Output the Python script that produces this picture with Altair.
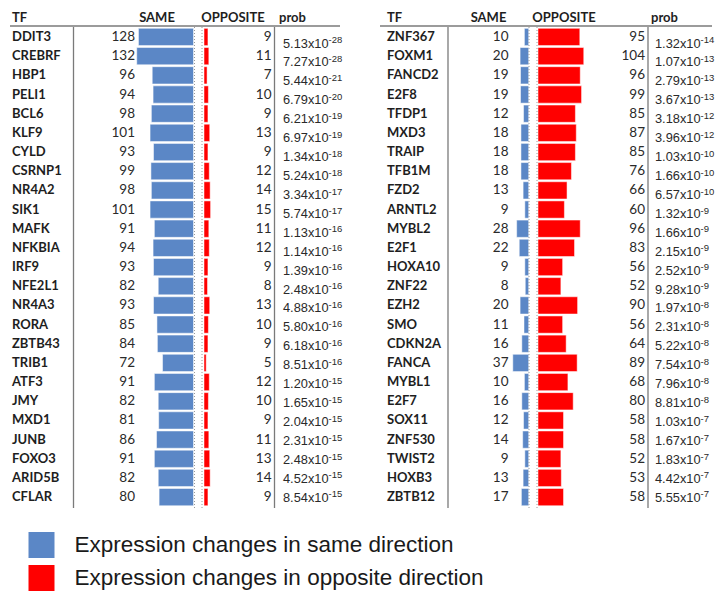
import altair as alt
import pandas as pd

left_tf = ["DDIT3","CREBRF","HBP1","PELI1","BCL6","KLF9","CYLD","CSRNP1","NR4A2","SIK1","MAFK","NFKBIA","IRF9","NFE2L1","NR4A3","RORA","ZBTB43","TRIB1","ATF3","JMY","MXD1","JUNB","FOXO3","ARID5B","CFLAR"]
left_same = [128,132,96,94,98,101,93,99,98,101,91,94,93,82,93,85,84,72,91,82,81,86,91,82,80]
left_opp = [9,11,7,10,9,13,9,12,14,15,11,12,9,8,13,10,9,5,12,10,9,11,13,14,9]
left_mant = ["5.13","7.27","5.44","6.79","6.21","6.97","1.34","5.24","3.34","5.74","1.13","1.14","1.39","2.48","4.88","5.80","6.18","8.51","1.20","1.65","2.04","2.31","2.48","4.52","8.54"]
left_exp = [-28,-28,-21,-20,-19,-19,-18,-18,-17,-17,-16,-16,-16,-16,-16,-16,-16,-16,-15,-15,-15,-15,-15,-15,-15]

right_tf = ["ZNF367","FOXM1","FANCD2","E2F8","TFDP1","MXD3","TRAIP","TFB1M","FZD2","ARNTL2","MYBL2","E2F1","HOXA10","ZNF22","EZH2","SMO","CDKN2A","FANCA","MYBL1","E2F7","SOX11","ZNF530","TWIST2","HOXB3","ZBTB12"]
right_same = [10,20,19,19,12,18,18,18,13,9,28,22,9,8,20,11,16,37,10,16,12,14,9,13,17]
right_opp = [95,104,96,99,85,87,85,76,66,60,96,83,56,52,90,56,64,89,68,80,58,58,52,53,58]
right_mant = ["1.32","1.07","2.79","3.67","3.18","3.96","1.03","1.66","6.57","1.32","1.66","2.15","2.52","9.28","1.97","2.31","5.22","7.54","7.96","8.81","1.03","1.67","1.83","4.42","5.55"]
right_exp = [-14,-13,-13,-13,-12,-12,-10,-10,-10,-9,-9,-9,-9,-9,-8,-8,-8,-8,-8,-8,-7,-7,-7,-7,-7]

headers = ["TF", "SAME", "OPPOSITE", "prob"]
legend_labels = ["Expression changes in same direction", "Expression changes in opposite direction"]
BLUE = "#5b87c6"
RED = "#ff0000"

def make_df(tf, same, opp, mant, exp):
    return pd.DataFrame({
        "row": list(range(len(tf))),
        "tf": tf,
        "same": same,
        "opp": opp,
        "mant": [m + "x10" for m in mant],
        "exp": [str(e) for e in exp],
        "dir_same": legend_labels[0],
        "dir_opp": legend_labels[1],
    })

Y = alt.Y("row:O", axis=None,
          scale=alt.Scale(range=[19.4, 498.7], paddingInner=0.1, paddingOuter=0.05))
# the prob column in the source drifts slightly relative to the rows
YP = alt.Y("row:O", axis=None,
           scale=alt.Scale(range=[25.5, 498.5], paddingInner=0.1, paddingOuter=0.05))
color_scale = alt.Scale(domain=legend_labels, range=[BLUE, RED])
one = pd.DataFrame({"k": [0]})

def panel(df, c, with_legend):
    L = []
    base = alt.Chart(df)
    if with_legend:
        leg = alt.Legend(orient="none", legendX=20.5, legendY=524, title=None,
                         symbolType="square", symbolSize=676, symbolStrokeWidth=0,
                         labelFontSize=22.5, labelFont="Liberation Sans", labelColor="#1a1a1a",
                         labelOffset=20, rowPadding=7, labelLimit=600)
    else:
        leg = None
    L.append(base.mark_bar(stroke="white", strokeWidth=0.5).encode(
        x=alt.X("same:Q", axis=None, scale=alt.Scale(domain=[0, 100], range=[c["same0"], c["same0"] - 43], zero=True)),
        y=Y, color=alt.Color("dir_same:N", scale=color_scale, legend=leg)))
    L.append(base.mark_bar(stroke="white", strokeWidth=0.5).encode(
        x=alt.X("opp:Q", axis=None, scale=alt.Scale(domain=[0, 100], range=[c["opp0"], c["opp0"] + 44], zero=True)),
        y=Y, color=alt.Color("dir_opp:N", scale=color_scale, legend=None)))
    # texts
    L.append(base.mark_text(align="left", baseline="middle", font="Lato", fontWeight="bold",
                            fontSize=13, color="#1e1e1e").encode(
        x=alt.value(c["tf"]), y=Y, text="tf:N"))
    L.append(base.mark_text(align="right", baseline="middle", font="Lato",
                            fontSize=13.5, color="#2a2a2a").encode(
        x=alt.value(c["samen"]), y=Y, text="same:Q"))
    L.append(base.mark_text(align="right", baseline="middle", font="Lato",
                            fontSize=13.5, color="#2a2a2a").encode(
        x=alt.value(c["oppn"]), y=Y, text="opp:Q"))
    L.append(base.mark_text(align="left", baseline="alphabetic", font="Liberation Sans",
                            fontSize=12.8, dy=4.6, color="#2a2a2a").encode(
        x=alt.value(c["prob"]), y=YP, text="mant:N"))
    L.append(base.mark_text(align="left", baseline="alphabetic", font="Liberation Sans",
                            fontSize=9.5, dy=0.3, color="#2a2a2a").encode(
        x=alt.value(c["prob"] + 45.5), y=YP, text="exp:N"))
    # headers
    h = alt.Chart(one)
    hs = dict(baseline="middle", font="Lato", fontWeight="bold", fontSize=13, color="#1e1e1e")
    L.append(h.mark_text(align="left", text=headers[0], **hs).encode(x=alt.value(c["tf"]), y=alt.value(9.5)))
    L.append(h.mark_text(align="center", text=headers[1], **hs).encode(x=alt.value(c["hsame"]), y=alt.value(9.5)))
    L.append(h.mark_text(align="center", text=headers[2], **hs).encode(x=alt.value(c["hopp"]), y=alt.value(9.5)))
    L.append(h.mark_text(align="left", text=headers[3], **hs).encode(x=alt.value(c["hprob"]), y=alt.value(9.5)))
    # rules
    L.append(h.mark_rule(color="#7a7a7a", strokeWidth=1.5).encode(
        x=alt.value(c["h0"]), x2=alt.value(c["h1"]), y=alt.value(18)))
    for vx in (c["v1"], c["v2"]):
        L.append(h.mark_rule(color="#7a7a7a", strokeWidth=1.3).encode(
            x=alt.value(vx), y=alt.value(19), y2=alt.value(500)))
    for dx in (c["d1"], c["d2"]):
        L.append(h.mark_rule(color="#9a9a9a", strokeWidth=1, strokeDash=[1, 2]).encode(
            x=alt.value(dx), y=alt.value(19), y2=alt.value(500)))
    return L

left_cfg = dict(tf=4, samen=127, same0=185.5, opp0=196, oppn=263.5, prob=275,
                hsame=149, hopp=225, hprob=271, h0=2, h1=332, v1=65.5, v2=266.5, d1=186.5, d2=194)
right_cfg = dict(tf=379, samen=500.5, same0=520.7, opp0=530, oppn=637, prob=647,
                 hsame=480.5, hopp=556, hprob=643, h0=372, h1=704, v1=440, v2=640, d1=521, d2=529)

layers = panel(make_df(left_tf, left_same, left_opp, left_mant, left_exp), left_cfg, True) + \
         panel(make_df(right_tf, right_same, right_opp, right_mant, right_exp), right_cfg, False)

chart = alt.layer(*layers).resolve_scale(x="independent", y="independent").properties(
    width=708, height=583, padding=0,
    autosize=alt.AutoSizeParams(type="none"),
).configure_view(stroke=None)

chart.save("out.html", embed_options={"renderer": "svg", "actions": False})
